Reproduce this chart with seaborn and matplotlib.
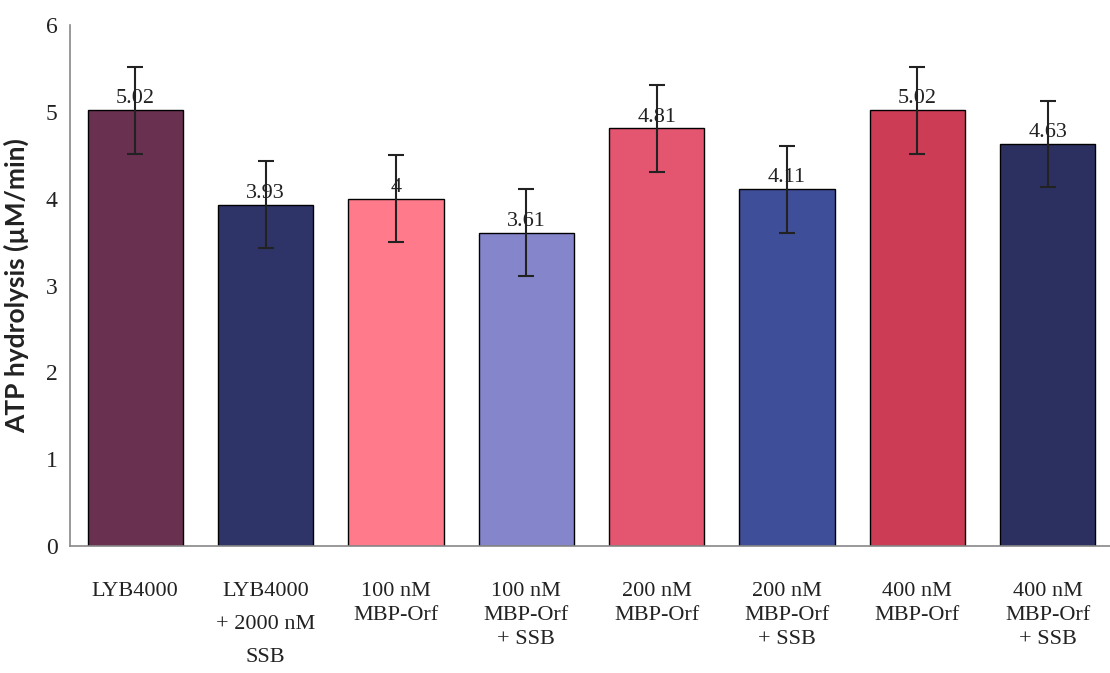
import pandas as pd
import matplotlib.pyplot as plt
import seaborn as sns

sns.set_style("white")
plt.rcParams['font.family'] = ['Liberation Serif', 'DejaVu Serif']

categorias = [
    "LYB4000",
    "LYB4000\n+ 2000 nM\nSSB",
    "100 nM\nMBP-Orf",
    "100 nM\nMBP-Orf\n+ SSB",
    "200 nM\nMBP-Orf",
    "200 nM\nMBP-Orf\n+ SSB",
    "400 nM\nMBP-Orf",
    "400 nM\nMBP-Orf\n+ SSB",
]
valores = [5.02, 3.93, 4.00, 3.61, 4.81, 4.11, 5.02, 4.63]
erros = [0.5, 0.5, 0.5, 0.5, 0.5, 0.5, 0.5, 0.5]
cores = ["#6a3050", "#2f3468", "#ff7a8a", "#8585cc",
         "#e45570", "#3f4e98", "#cc3c55", "#2c3060"]
ticks_y = [0, 1, 2, 3, 4, 5, 6]

dados = pd.DataFrame({"grupo": categorias, "atp": valores, "erro": erros})

fig = plt.figure(figsize=(11.10, 6.73), dpi=100)
# eixo um pouco mais largo que a figura: a imagem original está cortada à direita
ax = fig.add_axes([70 / 1110, 127 / 673, 1043 / 1110, 521 / 673])

sns.barplot(data=dados, x="grupo", y="atp", hue="grupo", palette=cores,
            saturation=1, width=0.73, edgecolor="black", linewidth=1.0,
            legend=False, errorbar=None, ax=ax)

posicoes = range(len(categorias))
ax.errorbar(posicoes, dados["atp"], yerr=dados["erro"], fmt="none",
            ecolor="#222222", elinewidth=1.5, capsize=6, capthick=1.5, zorder=5)

for x, v in zip(posicoes, valores):
    ax.text(x, v + 0.02, f"{v:g}", ha="center", va="bottom", fontsize=16,
            color="#222222", zorder=4)

ax.set_ylim(0, 6)
ax.set_yticks(ticks_y)
ax.set_yticklabels([str(t) for t in ticks_y], fontsize=17, color="#222222")
ax.set_xlim(-0.5, len(categorias) - 0.5)
ax.set_xticks(posicoes)
ax.set_xticklabels(categorias, fontsize=16, linespacing=1.35, va="top",
                   color="#222222")
# o segundo rótulo tem linhas mais espaçadas no original
ax.get_xticklabels()[1].set_linespacing(2.0)
ax.set_xticks([p - 0.5 for p in range(len(categorias) + 1)], minor=True)
ax.tick_params(axis="x", which="major", length=0, pad=26)
ax.tick_params(axis="x", which="minor", length=6, color="#888888", direction="out")
ax.tick_params(axis="y", length=5, color="#888888", direction="out", pad=4)

ax.set_xlabel("")
ax.set_ylabel("ATP hydrolysis (\u00b5M/min)", family=['Lato', 'DejaVu Sans'],
              fontsize=19, fontweight="bold", color="#222222", labelpad=12)

for lado in ["top", "right"]:
    ax.spines[lado].set_visible(False)
for lado in ["left", "bottom"]:
    ax.spines[lado].set_color("#888888")
    ax.spines[lado].set_linewidth(1.2)

fig.savefig("out.png", dpi=100)
